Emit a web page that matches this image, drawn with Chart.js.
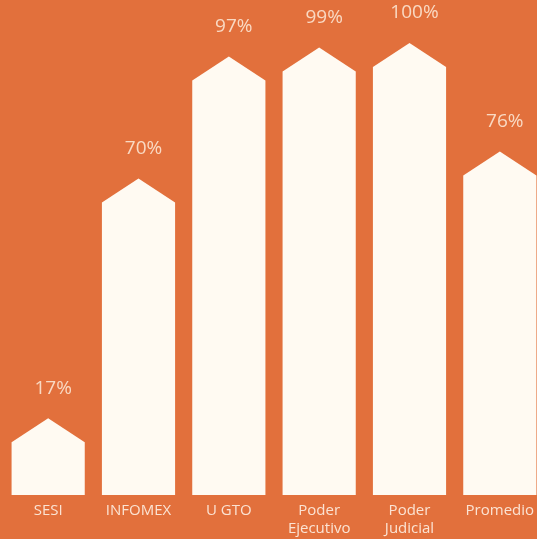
<!DOCTYPE html>
<html>
<head>
<meta charset="utf-8">
<script src="https://cdn.jsdelivr.net/npm/chart.js@4"></script>
<style>
  html, body { margin: 0; padding: 0; overflow: hidden; background: #E2703C; }
  #c { display: block; }
</style>
</head>
<body>
<canvas id="c" width="546" height="539" style="width:546px;height:539px"></canvas>
<script>
const categories = ['SESI', 'INFOMEX', 'U GTO', ['Poder', 'Ejecutivo'], ['Poder', 'Judicial'], 'Promedio'];
const values = [17, 70, 97, 99, 100, 76];
const valueLabels = ['17%', '70%', '97%', '99%', '100%', '76%'];

const BG = '#E2703C';
const BAR = '#FFFAF2';
const PEAK = 24;

const housePlugin = {
  id: 'house',
  afterDatasetsDraw(chart) {
    const ctx = chart.ctx;
    const meta = chart.getDatasetMeta(0);
    ctx.save();
    meta.data.forEach((el, i) => {
      const p = el.getProps(['x', 'y', 'base', 'width'], true);
      const l = p.x - p.width / 2, r = p.x + p.width / 2;
      ctx.beginPath();
      ctx.moveTo(l, p.base);
      ctx.lineTo(l, p.y + PEAK);
      ctx.lineTo(p.x, p.y);
      ctx.lineTo(r, p.y + PEAK);
      ctx.lineTo(r, p.base);
      ctx.closePath();
      ctx.fillStyle = BAR;
      ctx.fill();
      ctx.font = '19px "Open Sans", sans-serif';
      ctx.fillStyle = '#F9D9C3';
      ctx.textAlign = 'center';
      ctx.textBaseline = 'middle';
      ctx.fillText(valueLabels[i], p.x + 5, p.y - 30);
    });
    ctx.restore();
  }
};

new Chart(document.getElementById('c'), {
  type: 'bar',
  data: {
    labels: categories,
    datasets: [{
      data: values,
      backgroundColor: 'rgba(0,0,0,0)',
      borderWidth: 0,
      categoryPercentage: 1,
      barPercentage: 0.81
    }]
  },
  options: {
    responsive: false,
    animation: false,
    layout: { padding: { left: 3, right: 1, top: 43, bottom: 0 } },
    plugins: { legend: { display: false }, tooltip: { enabled: false } },
    scales: {
      y: { display: false, min: 0, max: 100 },
      x: {
        grid: { display: false, drawTicks: false },
        border: { display: false },
        afterFit(axis) { axis.height = 44; },
        ticks: {
          color: '#FBE3D3',
          font: { family: '"Open Sans", sans-serif', size: 15, lineHeight: 1.2 },
          padding: 7,
          autoSkip: false,
          maxRotation: 0,
          minRotation: 0
        }
      }
    }
  },
  plugins: [housePlugin]
});
</script>
</body>
</html>
